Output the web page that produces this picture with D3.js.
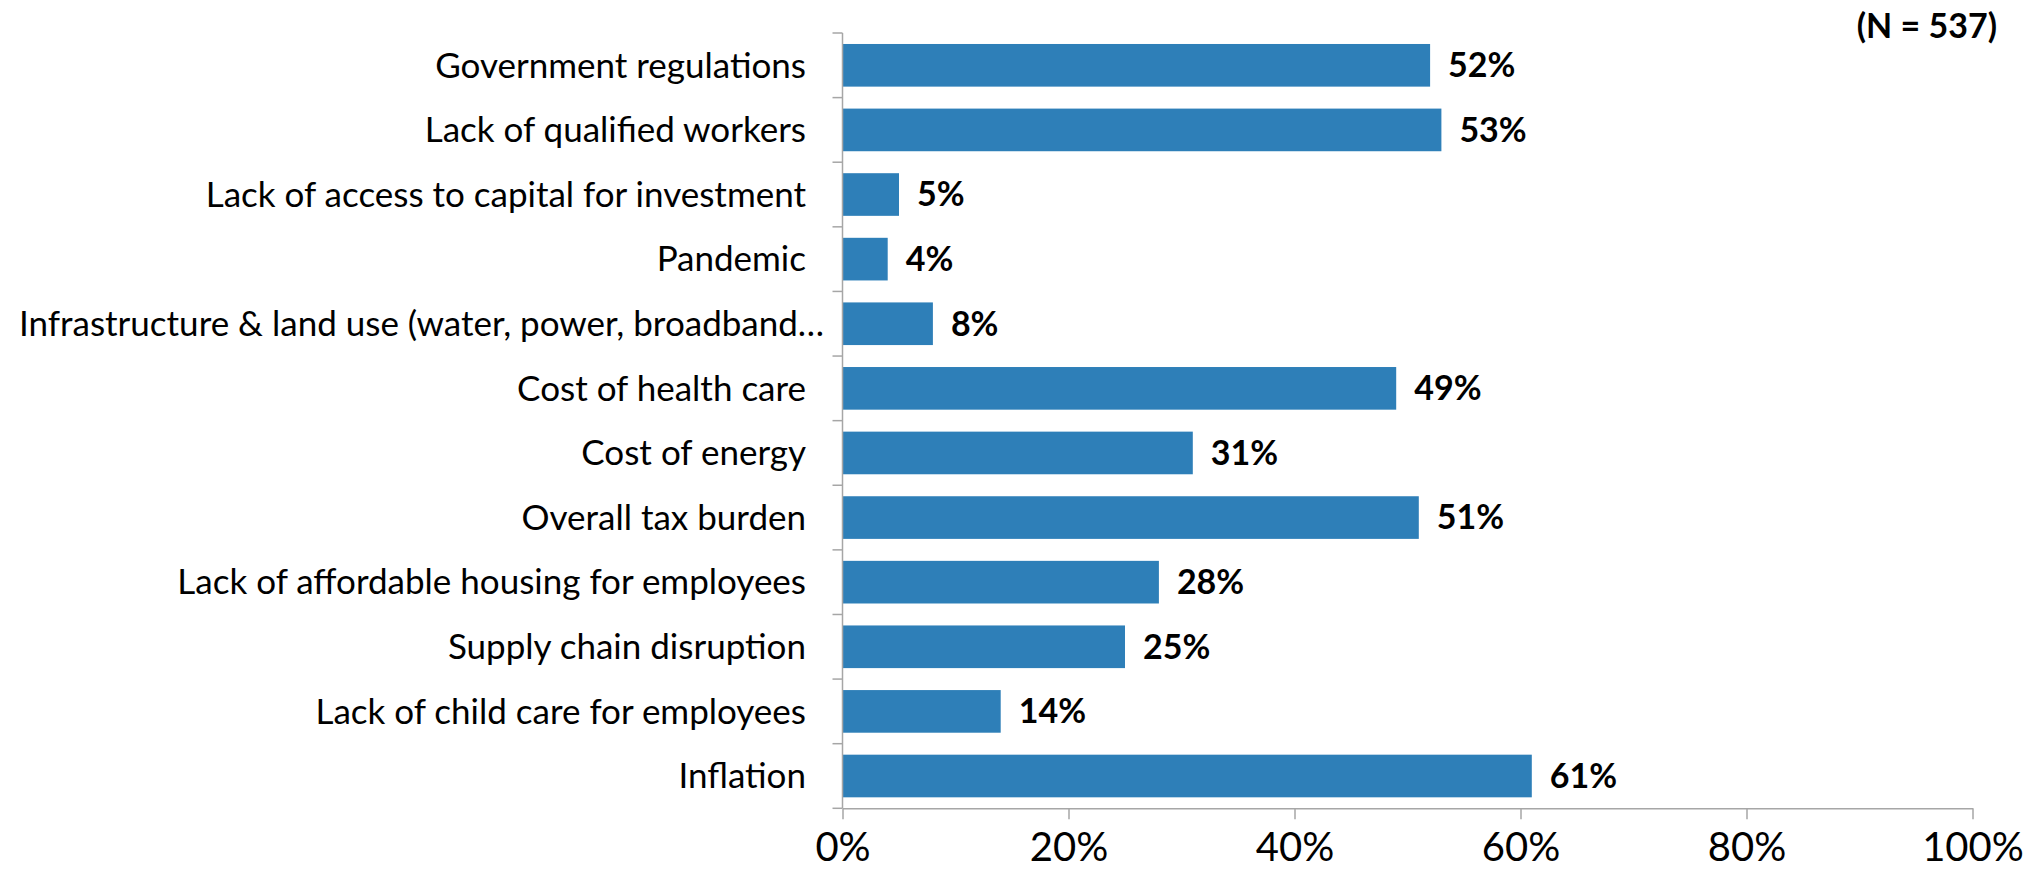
<!DOCTYPE html>
<html>
<head>
<meta charset="utf-8">
<script src="https://cdn.jsdelivr.net/npm/d3@7"></script>
<style>
  html, body { margin: 0; padding: 0; background: #fff; }
  svg { display: block; }
  text { font-family: Lato, "Open Sans", "Liberation Sans", sans-serif; fill: #000; }
</style>
</head>
<body>
<svg id="chart" width="2033" height="871"></svg>
<script>
const categories = [
  "Government regulations",
  "Lack of qualified workers",
  "Lack of access to capital for investment",
  "Pandemic",
  "Infrastructure & land use (water, power, broadband…",
  "Cost of health care",
  "Cost of energy",
  "Overall tax burden",
  "Lack of affordable housing for employees",
  "Supply chain disruption",
  "Lack of child care for employees",
  "Inflation"
];
const values = [52, 53, 5, 4, 8, 49, 31, 51, 28, 25, 14, 61];
const tickValues = [0, 20, 40, 60, 80, 100];
const noteText = "(N = 537)";

const svg = d3.select("#chart");
const x = d3.scaleLinear().domain([0, 100]).range([842.5, 1972.5]);
const y = d3.scaleBand().domain(categories).range([33, 808.3]).paddingInner(0.34).paddingOuter(0.17);
const axisColor = "#a6a6a6";

// bars
svg.append("g").selectAll("rect").data(values).join("rect")
  .attr("x", x(0))
  .attr("y", (d, i) => y(categories[i]))
  .attr("width", d => x(d) - x(0))
  .attr("height", y.bandwidth())
  .attr("fill", "#2e7fb8");

// vertical category axis
const yAxisG = svg.append("g");
yAxisG.append("line").attr("x1", x(0)).attr("x2", x(0)).attr("y1", 33).attr("y2", 808.3)
  .attr("stroke", axisColor).attr("stroke-width", 1.5);
const boundaries = d3.range(categories.length + 1).map(i => 33 + i * y.step());
yAxisG.selectAll("line.t").data(boundaries).join("line").attr("class", "t")
  .attr("x1", x(0) - 10).attr("x2", x(0)).attr("y1", d => d).attr("y2", d => d)
  .attr("stroke", axisColor).attr("stroke-width", 1.5);

// category labels
const labelRight = 806;
yAxisG.selectAll("text").data(categories).join("text")
  .attr("x", labelRight)
  .attr("y", d => y(d) + y.bandwidth() / 2)
  .attr("dy", "0.35em")
  .attr("text-anchor", "end")
  .style("font-size", "35px")
  .text(d => d)
  .each(function () {
    const w = this.getComputedTextLength();
    if (w > labelRight - 19) {
      d3.select(this).attr("text-anchor", "start").attr("x", 19);
    }
  });

// x axis
const xAxis = d3.axisBottom(x).tickValues(tickValues).tickFormat(d => d + "%").tickSize(11).tickSizeOuter(0);
const xg = svg.append("g").attr("transform", "translate(0,808.3)").call(xAxis);
xg.select(".domain").attr("stroke", axisColor).attr("stroke-width", 1.5);
xg.selectAll(".tick line").attr("stroke", axisColor).attr("stroke-width", 1.5);
xg.selectAll(".tick text").style("font-size", "40px").attr("fill", "#000")
  .attr("y", 53).attr("dy", 0)
  .style("font-family", "Lato, 'Open Sans', sans-serif");

// value labels
svg.append("g").selectAll("text").data(values).join("text")
  .attr("x", d => x(d) + 18)
  .attr("y", (d, i) => y(categories[i]) + y.bandwidth() / 2)
  .attr("dy", "0.35em")
  .style("font-size", "34px")
  .style("font-weight", "bold")
  .text(d => d + "%");

// N note
svg.append("text")
  .attr("x", 1997).attr("y", 26).attr("dy", "0.35em")
  .attr("text-anchor", "end")
  .style("font-size", "34px").style("font-weight", "bold")
  .text(noteText);
</script>
</body>
</html>
